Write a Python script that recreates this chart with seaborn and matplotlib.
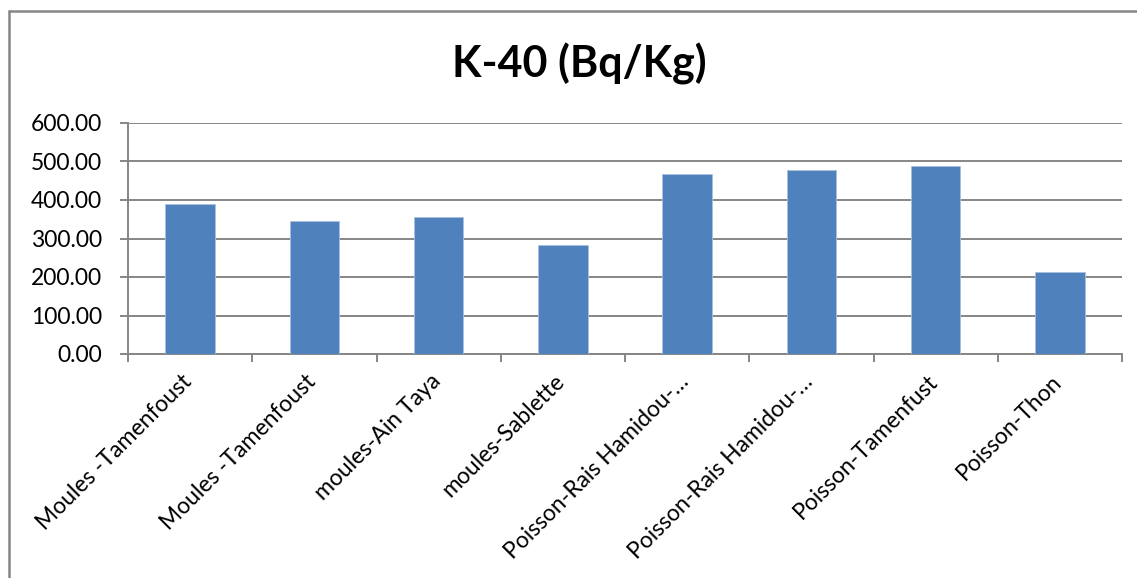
import matplotlib
matplotlib.use("Agg")
import matplotlib.pyplot as plt
from matplotlib.lines import Line2D
from matplotlib.ticker import FixedLocator, FormatStrFormatter
from matplotlib.transforms import ScaledTranslation
import seaborn as sns
import pandas as pd
import numpy as np

# K-40 activity per sample
samples = [
    "Moules -Tamenfoust",
    "Moules -Tamenfoust ",
    "moules-Ain Taya",
    "moules-Sablette",
    "Poisson-Rais Hamidou-…",
    "Poisson-Rais Hamidou-… ",
    "Poisson-Tamenfust",
    "Poisson-Thon",
]
k40 = [389, 345, 355, 282, 467, 477, 488, 214]
y_ticks = [0, 100, 200, 300, 400, 500, 600]

sns.set_theme(style="white")
plt.rcParams["font.family"] = ["Lato", "DejaVu Sans"]

W, H = 1137, 578
fig = plt.figure(figsize=(W / 100, H / 100), dpi=100)
ax = fig.add_axes([128 / W, 1 - 354 / H, (1122 - 128) / W, (354 - 123) / H])

df = pd.DataFrame({"sample": samples, "k40": k40})
sns.barplot(data=df, x="sample", y="k40", color="#4F81BD", width=0.4,
            saturation=1, edgecolor="#A9C0DF", linewidth=0.6, ax=ax, zorder=3)

grid_c = "#868686"
lw = 1.4
ax.set_ylim(0, 600)
ax.set_xlim(-0.5, len(samples) - 0.5)
ax.yaxis.set_major_locator(FixedLocator(y_ticks))
ax.yaxis.set_major_formatter(FormatStrFormatter("%.2f"))
ax.grid(axis="y", color=grid_c, linewidth=lw, zorder=0)
ax.set_axisbelow(True)

for s in ["top", "right"]:
    ax.spines[s].set_visible(False)
for s in ["left", "bottom"]:
    ax.spines[s].set_color(grid_c)
    ax.spines[s].set_linewidth(lw)

ax.tick_params(axis="y", which="major", left=True, length=5.8, width=lw,
               color=grid_c, labelsize=16.5, labelcolor="black", pad=13)
ax.set_xticks(np.arange(len(samples)))
ax.set_xticks(np.arange(len(samples) + 1) - 0.5, minor=True)
ax.tick_params(axis="x", which="minor", bottom=True, length=5.8, width=lw,
               color=grid_c)
ax.tick_params(axis="x", which="major", bottom=False, length=0, pad=12)
ax.set_xticklabels([s.strip() for s in samples], rotation=45, ha="right",
                   rotation_mode="anchor", fontsize=16.5, color="black")
shift = ScaledTranslation(-9 / 100, 0, fig.dpi_scale_trans)
for lab in ax.get_xticklabels():
    lab.set_transform(lab.get_transform() + shift)
ax.set_xlabel("")
ax.set_ylabel("")

fig.text(579 / W, 1 - 64 / H, "K-40 (Bq/Kg)", ha="center", va="center",
         fontsize=31, fontweight="bold", color="black")

# chart-area frame (top and left edges)
fig.add_artist(Line2D([8.5 / W, 1], [1 - 10.5 / H, 1 - 10.5 / H],
                      transform=fig.transFigure, color=grid_c, linewidth=1.8))
fig.add_artist(Line2D([8.5 / W, 8.5 / W], [0, 1 - 10.5 / H],
                      transform=fig.transFigure, color=grid_c, linewidth=1.8))

fig.savefig("out.png", dpi=100, facecolor="white")
